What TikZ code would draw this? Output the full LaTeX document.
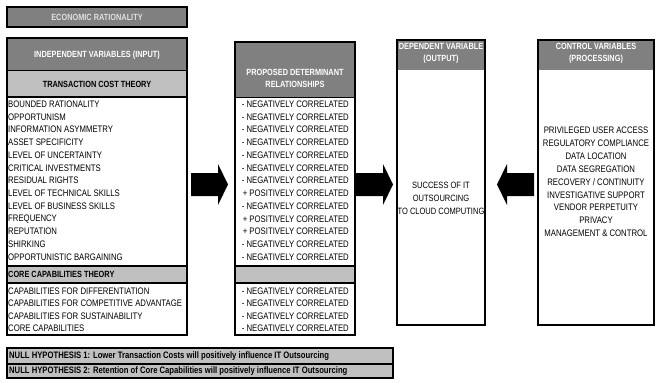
\documentclass[tikz,border=0pt]{standalone}
\usepackage{fontspec}
\setmainfont{Liberation Sans}[FakeStretch=0.82,
  BoldFont={Liberation Sans Bold}, BoldFeatures={FakeStretch=0.82}]
\usetikzlibrary{positioning}
\definecolor{headgray}{HTML}{808080}
\definecolor{bandgray}{HTML}{C0C0C0}
\newcommand{\negrel}{- NEGATIVELY CORRELATED}
\newcommand{\posrel}{+ POSITIVELY CORRELATED}
\tikzset{
  boxline/.style={line width=2.4bp},
  thinline/.style={line width=0.8bp},
  headtxt/.style={font=\bfseries\fontsize{9}{12}\selectfont, text=white, align=center, inner sep=0pt},
  bandtxt/.style={font=\bfseries\fontsize{9}{12}\selectfont, inner sep=0pt},
  itemtxt/.style={font=\fontsize{9.5}{12}\selectfont, inner sep=0pt},
  hyptxt/.style={font=\bfseries\fontsize{9.4}{10}\selectfont, inner sep=0pt, anchor=west},
}
\begin{document}
\begin{tikzpicture}[x=1bp, y=-1bp]
\useasboundingbox (0,0) rectangle (658,385);

% Economic rationality banner
\fill[headgray] (7,7) rectangle (187,27);
\draw[boxline] (7,7) rectangle (187,27);
\node[headtxt, text=white!88!black] (econ) at (97,17) {ECONOMIC RATIONALITY};

% Independent variables (input)
\fill[headgray] (7,38) rectangle (187,70);
\fill[bandgray] (7,70) rectangle (187,97);
\fill[bandgray] (7,266) rectangle (187,283);
\draw[thinline] (7,70) -- (187,70);
\draw[boxline] (7,97) -- (187,97);
\draw[boxline] (7,266) -- (187,266);
\draw[boxline] (7,283) -- (187,283);
\draw[boxline] (7,38) rectangle (187,335);
\node[headtxt] (indep) at (97,55) {INDEPENDENT VARIABLES (INPUT)};
\node[bandtxt] (tct) at (97,84) {TRANSACTION COST THEORY};
\node[bandtxt, anchor=west] (cct) at (8,274.5) {CORE CAPABILITIES THEORY};
\foreach \t [count=\i from 0] in {BOUNDED RATIONALITY, OPPORTUNISM,
    INFORMATION ASYMMETRY, ASSET SPECIFICITY, LEVEL OF UNCERTAINTY,
    CRITICAL INVESTMENTS, RESIDUAL RIGHTS, LEVEL OF TECHNICAL SKILLS,
    LEVEL OF BUSINESS SKILLS, FREQUENCY, REPUTATION, SHIRKING,
    OPPORTUNISTIC BARGAINING} {
    \node[itemtxt, anchor=west] (tc\i) at (8,{104+12.75*\i}) {\t};
}
\foreach \t [count=\i from 0] in {CAPABILITIES FOR DIFFERENTIATION,
    CAPABILITIES FOR COMPETITIVE ADVANTAGE,
    CAPABILITIES FOR SUSTAINABILITY, CORE CAPABILITIES} {
    \node[itemtxt, anchor=west] (cc\i) at (8,{291+12.5*\i}) {\t};
}

% Proposed determinant relationships
\fill[headgray] (235,42) rectangle (355,97);
\fill[bandgray] (235,266) rectangle (355,283);
\draw[thinline] (235,97) -- (355,97);
\draw[boxline] (235,266) -- (355,266);
\draw[boxline] (235,283) -- (355,283);
\draw[boxline] (235,42) rectangle (355,335);
\node[headtxt] (prop) at (295,78) {PROPOSED DETERMINANT\\RELATIONSHIPS};
\foreach \t [count=\i from 0] in {\negrel, \negrel, \negrel, \negrel,
    \negrel, \negrel, \negrel, \posrel, \negrel, \posrel, \posrel,
    \negrel, \negrel} {
    \node[itemtxt, anchor=east] (rt\i) at (349,{104+12.75*\i}) {\t};
}
\foreach \i in {0,...,3} {
    \node[itemtxt, anchor=east] (rc\i) at (349,{291+12.5*\i}) {\negrel};
}

% Dependent variable (output)
\fill[headgray] (397,40) rectangle (485,70);
\draw[boxline] (397,40) rectangle (485,325);
\node[headtxt] (dep) at (441,53) {DEPENDENT VARIABLE\\(OUTPUT)};
\node[itemtxt, align=center, font=\fontsize{9.2}{13}\selectfont] (succ) at (441,198)
    {SUCCESS OF IT\\OUTSOURCING\\TO CLOUD COMPUTING};

% Control variables (processing)
\fill[headgray] (538,40) rectangle (654,70);
\draw[boxline] (538,40) rectangle (654,325);
\node[headtxt] (ctrl) at (596,53) {CONTROL VARIABLES\\(PROCESSING)};
\node[itemtxt, align=center, font=\fontsize{9.5}{12.9}\selectfont] (ctrllist) at (596,182)
    {PRIVILEGED USER ACCESS\\REGULATORY COMPLIANCE\\DATA LOCATION\\
     DATA SEGREGATION\\RECOVERY / CONTINUITY\\INVESTIGATIVE SUPPORT\\
     VENDOR PERPETUITY\\PRIVACY\\MANAGEMENT \& CONTROL};

% Block arrows
\fill (191,173) -- (218,173) -- (218,164) -- (228,184.5) -- (218,205) -- (218,196) -- (191,196) -- cycle;
\fill (356,173) -- (383,173) -- (383,164) -- (393,184.5) -- (383,205) -- (383,196) -- (356,196) -- cycle;
\fill (534,173) -- (507,173) -- (507,164) -- (497,184.5) -- (507,205) -- (507,196) -- (534,196) -- cycle;

% Null hypotheses
\fill[bandgray] (7,348) rectangle (393,378);
\draw[boxline] (7,364) -- (393,364);
\draw[boxline] (7,348) rectangle (393,378);
\node[hyptxt] (hyp1) at (9,356) {NULL HYPOTHESIS 1: Lower Transaction Costs will positively influence IT Outsourcing};
\node[hyptxt] (hyp2) at (9,371) {NULL HYPOTHESIS 2: Retention of Core Capabilities will positively influence IT Outsourcing};

\end{tikzpicture}
\end{document}
